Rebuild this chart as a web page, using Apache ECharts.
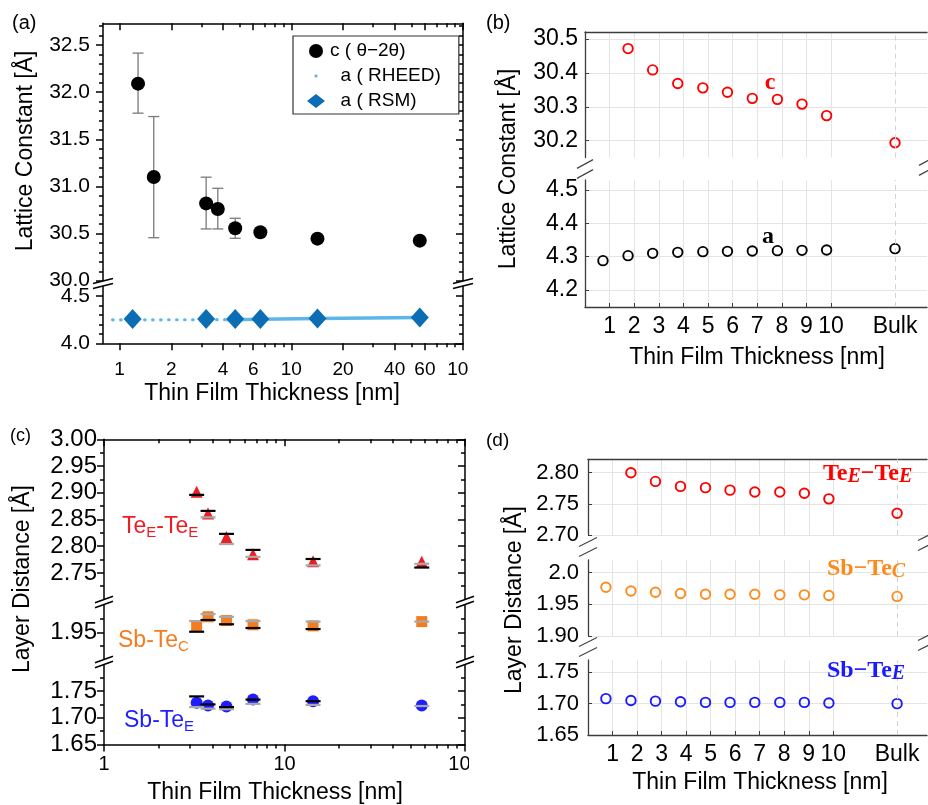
<!DOCTYPE html>
<html><head><meta charset="utf-8">
<script src="https://cdn.jsdelivr.net/npm/echarts@6/dist/echarts.min.js"></script>
<style>html,body{margin:0;padding:0;background:#fff}#c{width:928px;height:805px}</style>
</head><body><div id="c"></div>
<script>
// ---------------- DATA ----------------
// Panel (a)
const aThickC   = [1.28, 1.58, 3.19, 3.73, 4.71, 6.6, 14.2, 56];
const aC        = [32.09, 31.10, 30.82, 30.76, 30.556, 30.514, 30.446, 30.425];
const aCLow     = [31.777, 30.456, 30.549, 30.549, 30.45, null, null, null];
const aCHigh    = [32.414, 31.741, 31.098, 30.98, 30.662, null, null, null];
const aThickRsm = [1.19, 3.19, 4.71, 6.6, 14.2, 56];
const aRsm      = [4.256, 4.256, 4.258, 4.256, 4.262, 4.274];
const rheedDotThick   = [0.91, 4.4];
const rheedDot        = [4.248, 4.25];
const rheedSolidThick = [4.2, 6.6, 14.2, 56];
const rheedSolid      = [4.25, 4.254, 4.262, 4.272];
const aXLabels = [1, 2, 4, 6, 10, 20, 40, 60, 100];
const aXMinor  = [3, 5, 7, 8, 9, 30, 50, 70, 80, 90];
const aUpTicks = [30.0, 30.5, 31.0, 31.5, 32.0, 32.5];
const aUpMinor = [30.1, 30.2, 30.3, 30.4, 30.6, 30.7, 30.8, 30.9, 31.1, 31.2, 31.3, 31.4, 31.6, 31.7, 31.8, 31.9, 32.1, 32.2, 32.3, 32.4, 32.6, 32.7];
const aLoTicks = [4.0, 4.5];
const aLoMinor = [4.1, 4.2, 4.3, 4.4];

// Panels (b) and (d): thickness positions (last = Bulk)
const thickPos   = [0.73, 1.75, 2.75, 3.77, 4.79, 5.79, 6.8, 7.82, 8.82, 9.82, 12.6];
const catTickVals = [1, 2, 3, 4, 5, 6, 7, 8, 9, 10];
const catLabelVals = [1, 2, 3, 4, 5, 6, 7, 8, 9, 10, 12.6];
const catLabels    = ['1', '2', '3', '4', '5', '6', '7', '8', '9', '10', 'Bulk'];
const bulkPos = 12.6;
const bC = [null, 30.472, 30.409, 30.369, 30.356, 30.343, 30.325, 30.322, 30.308, 30.274, 30.194];
const bA = [4.288, 4.303, 4.31, 4.313, 4.315, 4.316, 4.317, 4.318, 4.319, 4.32, 4.324];
const bUpTicks = [30.2, 30.3, 30.4, 30.5];
const bLoTicks = [4.2, 4.3, 4.4, 4.5];

// Panel (c)
const cThick    = [3.26, 3.77, 4.77, 6.69, 14.4, 57.6];
const cTe       = [2.902, 2.861, 2.817, 2.785, 2.772, 2.771];
const cTeBlack  = [2.896, 2.866, 2.823, 2.793, 2.776, 2.760];
const cTeGray   = [null, 2.854, 2.804, 2.780, 2.764, 2.767];
const cSbC      = [1.962, 1.979, 1.972, 1.964, 1.962, 1.970];
const cSbCBlack = [1.951, 1.973, 1.965, 1.958, 1.956, null];
const cSbCGray  = [1.971, 1.984, 1.979, 1.971, 1.970, 1.970];
const cSbE      = [1.728, 1.723, 1.721, 1.734, 1.731, 1.723];
const cSbEBlack = [1.740, 1.725, 1.720, 1.734, 1.731, null];
const cSbEGray  = [1.720, 1.717, 1.716, 1.726, 1.724, 1.722];
const cXLabels = [1, 10, 100];
const cXMinor  = [2, 3, 4, 5, 6, 7, 8, 9, 20, 30, 40, 50, 60, 70, 80, 90];
const cUpTicks = [2.75, 2.80, 2.85, 2.90, 2.95, 3.00];
const cUpMinor = [2.725, 2.775, 2.825, 2.875, 2.925, 2.975];
const cMidTicks = [1.95];
const cMidMinor = [1.925, 1.975];
const cLoTicks = [1.65, 1.70, 1.75];
const cLoMinor = [1.675, 1.725, 1.775];

// Panel (d)
const dTe  = [null, 2.800, 2.786, 2.778, 2.776, 2.772, 2.769, 2.769, 2.767, 2.758, 2.735];
const dSbC = [1.977, 1.971, 1.969, 1.967, 1.966, 1.966, 1.966, 1.965, 1.965, 1.964, 1.9625];
const dSbE = [1.708, 1.705, 1.704, 1.703, 1.702, 1.702, 1.702, 1.702, 1.702, 1.701, 1.700];
const dUpTicks  = [2.70, 2.75, 2.80];
const dMidTicks = [1.90, 1.95, 2.00];
const dMidLabels = ['1.90', '1.95', '2.0'];
const dLoTicks  = [1.65, 1.70, 1.75];

// ---------------- BUILD ----------------
const FONT = "'Liberation Sans', Arial, sans-serif";
const SERIF = "'Liberation Serif', 'Times New Roman', serif";
const grids = [], xAxes = [], yAxes = [], series = [], graphics = [];

function addGrid(l, t, w, h) {
  grids.push({left: l, top: t, width: w, height: h, containLabel: false, outerBoundsMode: 'none'});
  return grids.length - 1;
}
const pairs = (xs, ys) => xs.map((x, i) => ys[i] == null ? null : [x, ys[i]]).filter(Boolean);
const fmtLog = v => String(Math.round(v));
const fmtCat = v => { const i = catLabelVals.findIndex(t => Math.abs(t - v) < 1e-6); return i < 0 ? '' : catLabels[i]; };

function originSection(rect, xs, ys) {
  const g = addGrid(...rect), g2 = addGrid(...rect);
  const ls = {color: '#000', width: 1.5};
  const top = xs.side === 'top', none = xs.side === 'none';
  const xBase = {type: 'log', logBase: 10, min: xs.min, max: xs.max, position: top ? 'top' : 'bottom',
    splitLine: {show: false}, minorTick: {show: false}, minorSplitLine: {show: false}};
  const xi = xAxes.push(Object.assign({}, xBase, {gridIndex: g,
    axisLine: {show: !none, onZero: false, lineStyle: ls},
    axisTick: {show: !none, inside: top, length: 7, customValues: xs.major, lineStyle: ls},
    axisLabel: {show: xs.side === 'bottom', customValues: xs.labels || xs.major, formatter: fmtLog,
      fontSize: xs.fontSize || 19, margin: xs.margin || 10, color: '#000', fontFamily: FONT}})) - 1;
  xAxes.push(Object.assign({}, xBase, {gridIndex: g2,
    axisLine: {show: false, onZero: false},
    axisTick: {show: !none, inside: top, length: 4, customValues: xs.minor, lineStyle: ls},
    axisLabel: {show: false}}));
  const yBase = {type: 'value', min: ys.min, max: ys.max, splitLine: {show: false}};
  const yi = yAxes.push(Object.assign({}, yBase, {gridIndex: g, position: 'left',
    axisLine: {show: true, onZero: false, lineStyle: ls},
    axisTick: {show: true, inside: false, length: 7, customValues: ys.major, lineStyle: ls},
    axisLabel: {customValues: ys.major, formatter: ys.fmt, fontSize: ys.fontSize, margin: ys.margin,
      color: '#000', fontFamily: FONT}})) - 1;
  yAxes.push(Object.assign({}, yBase, {gridIndex: g, position: 'right',
    axisLine: {show: true, onZero: false, lineStyle: ls},
    axisTick: {show: true, inside: true, length: 7, customValues: ys.major, lineStyle: ls},
    axisLabel: {show: false}}));
  yAxes.push(Object.assign({}, yBase, {gridIndex: g2, position: 'left',
    axisLine: {show: false, onZero: false},
    axisTick: {show: true, inside: false, length: 4, customValues: ys.minor, lineStyle: ls},
    axisLabel: {show: false}}));
  yAxes.push(Object.assign({}, yBase, {gridIndex: g2, position: 'right',
    axisLine: {show: false, onZero: false},
    axisTick: {show: true, inside: true, length: 4, customValues: ys.minor, lineStyle: ls},
    axisLabel: {show: false}}));
  return {x: xi, y: yi};
}

function matlabSection(rect, xMax, ys, xSide) {
  const g = addGrid(...rect);
  const dark = '#3c3c3c', gl = '#e4e4e4';
  const xi = xAxes.push({gridIndex: g, type: 'value', min: 0, max: xMax, position: xSide === 'top' ? 'top' : 'bottom',
    axisLine: {show: xSide !== 'none', onZero: false, lineStyle: {color: dark, width: 1.3}},
    axisTick: {show: xSide === 'bottom', inside: true, length: 4, customValues: catTickVals, lineStyle: {color: dark, width: 1}},
    axisLabel: {show: xSide === 'bottom', customValues: catLabelVals, formatter: fmtCat, fontSize: 23, margin: 8,
      color: '#000', fontFamily: FONT},
    splitLine: {show: true, lineStyle: {color: gl, width: 1}}}) - 1;
  const yi = yAxes.push({gridIndex: g, type: 'value', min: ys.min, max: ys.max, position: 'left',
    axisLine: {show: true, onZero: false, lineStyle: {color: dark, width: 1.3}},
    axisTick: {show: true, inside: true, length: 4, customValues: ys.major, lineStyle: {color: dark, width: 1}},
    axisLabel: {customValues: ys.major, formatter: ys.fmt, fontSize: ys.fontSize || 23, margin: ys.margin || 7,
      color: '#000', fontFamily: FONT},
    splitLine: {show: true, lineStyle: {color: gl, width: 1}}}) - 1;
  return {x: xi, y: yi};
}

// ---- panel (a)
const aUp = originSection([103, 23.3, 360, 257.4],
  {min: 0.8, max: 100, side: 'top', major: aXLabels, minor: aXMinor},
  {min: 30.0, max: 32.73, major: aUpTicks, minor: aUpMinor, fmt: v => v.toFixed(1), fontSize: 21, margin: 13});
const aLo = originSection([103, 286.6, 360, 56.7],
  {min: 0.8, max: 100, side: 'bottom', major: aXLabels, labels: aXLabels, minor: aXMinor, fontSize: 19, margin: 17},
  {min: 4.0, max: 4.6, major: aLoTicks, minor: aLoMinor, fmt: v => v.toFixed(1), fontSize: 21, margin: 13});

// ---- panel (b)
const bUp = matlabSection([585, 32, 342, 125.6], 13.9, {min: 30.15, max: 30.521, major: bUpTicks, fmt: v => v.toFixed(1)}, 'top');
const bLo = matlabSection([585, 180, 342, 127], 13.9, {min: 4.149, max: 4.53, major: bLoTicks, fmt: v => v.toFixed(1)}, 'bottom');

// ---- panel (c)
const cUp = originSection([104, 439.3, 361, 160.3],
  {min: 1, max: 100, side: 'top', major: cXLabels, minor: cXMinor},
  {min: 2.70, max: 3.00, major: cUpTicks, minor: cUpMinor, fmt: v => v.toFixed(2), fontSize: 24, margin: 7});
const cMid = originSection([104, 604, 361, 56],
  {min: 1, max: 100, side: 'none', major: cXLabels, minor: cXMinor},
  {min: 1.898, max: 2.003, major: cMidTicks, minor: cMidMinor, fmt: v => v.toFixed(2), fontSize: 24, margin: 7});
const cLo = originSection([104, 664.4, 361, 80],
  {min: 1, max: 100, side: 'bottom', major: cXLabels, labels: cXLabels, minor: cXMinor, fontSize: 20, margin: 10},
  {min: 1.65, max: 1.80, major: cLoTicks, minor: cLoMinor, fmt: v => v.toFixed(2), fontSize: 24, margin: 7});

// ---- panel (d)
const dUp = matlabSection([588, 459.3, 339, 75.7], 13.82, {min: 2.70, max: 2.8215, major: dUpTicks, fmt: v => v.toFixed(2), fontSize: 22, margin: 9}, 'top');
const dMid = matlabSection([588, 560, 339, 76], 13.82, {min: 1.90, max: 2.02, major: dMidTicks,
  fmt: v => { const i = dMidTicks.findIndex(t => Math.abs(t - v) < 1e-6); return i < 0 ? '' : dMidLabels[i]; }, fontSize: 22, margin: 9}, 'none');
const dLo = matlabSection([588, 660, 339, 75], 13.82, {min: 1.65, max: 1.7696, major: dLoTicks, fmt: v => v.toFixed(2), fontSize: 22, margin: 9}, 'bottom');

// ---------------- SERIES ----------------
const on = (sec, o) => Object.assign({xAxisIndex: sec.x, yAxisIndex: sec.y, animation: false, silent: true,
  emphasis: {disabled: true}}, o);
const solid = c => ({color: c, opacity: 1});

function errRender(params, api) {
  const x = api.value(0), lo = api.value(1), hi = api.value(2);
  const p1 = api.coord([x, lo]), p2 = api.coord([x, hi]);
  const w = 5.5, st = {stroke: '#7a7a7a', lineWidth: 1.3};
  return {type: 'group', children: [
    {type: 'line', shape: {x1: p1[0], y1: p1[1], x2: p2[0], y2: p2[1]}, style: st},
    {type: 'line', shape: {x1: p1[0] - w, y1: p1[1], x2: p1[0] + w, y2: p1[1]}, style: st},
    {type: 'line', shape: {x1: p2[0] - w, y1: p2[1], x2: p2[0] + w, y2: p2[1]}, style: st}]};
}
const errData = aThickC.map((t, i) => aCLow[i] == null ? null : [t, aCLow[i], aCHigh[i]]).filter(Boolean);

const RHEED_C = '#5cb6e8', RSM_C = '#0b6db4';
series.push(on(aUp, {type: 'custom', renderItem: errRender, data: errData, encode: {x: 0, y: [1, 2]}, z: 2}));
series.push(on(aUp, {type: 'scatter', name: 'c ( θ−2θ)', data: pairs(aThickC, aC), symbol: 'circle', symbolSize: 14,
  itemStyle: solid('#000'), z: 3}));
series.push(on(aLo, {type: 'line', name: 'a ( RHEED)', data: pairs(rheedDotThick, rheedDot), showSymbol: false, symbol: 'none',
  itemStyle: solid(RHEED_C), lineStyle: {color: RHEED_C, width: 3.2, type: [0.5, 7.5], cap: 'round', opacity: 1}, z: 2}));
series.push(on(aLo, {type: 'line', name: 'a ( RHEED)', data: pairs(rheedSolidThick, rheedSolid), showSymbol: false, symbol: 'none',
  itemStyle: solid(RHEED_C), lineStyle: {color: RHEED_C, width: 3.5, opacity: 1}, z: 2}));
series.push(on(aLo, {type: 'scatter', name: 'a ( RSM)', data: pairs(aThickRsm, aRsm), symbol: 'diamond', symbolSize: [18, 20],
  itemStyle: solid(RSM_C), z: 4}));

const bulkLine = {silent: true, symbol: 'none', label: {show: false}, animation: false, emphasis: {disabled: true},
  lineStyle: {type: [5, 4], color: '#d4d4d4', width: 1}, data: [{xAxis: bulkPos}]};
const openCircle = (sec, ys, color) => on(sec, {type: 'scatter', data: pairs(thickPos, ys), symbol: 'circle', symbolSize: 9.5,
  itemStyle: {color: 'rgba(255,255,255,0)', borderColor: color, borderWidth: 1.9, opacity: 1}, markLine: bulkLine, z: 3});
series.push(openCircle(bUp, bC, '#ff0000'));
series.push(openCircle(bLo, bA, '#000000'));

const TE_C = '#ee1c24', SBC_C = '#f47c20', SBE_C = '#1e1eff';
const dash = (sec, ys, color, z) => on(sec, {type: 'scatter', data: pairs(cThick, ys), symbol: 'rect', symbolSize: [15, 2.2],
  itemStyle: solid(color), z: z});
series.push(on(cUp, {type: 'scatter', data: pairs(cThick, cTe), symbol: 'triangle', symbolSize: 12, itemStyle: solid(TE_C), z: 3}));
series.push(dash(cUp, cTeGray, '#a9a9a9', 4));
series.push(dash(cUp, cTeBlack, '#000', 5));
series.push(on(cMid, {type: 'scatter', data: pairs(cThick, cSbC), symbol: 'rect', symbolSize: 11, itemStyle: solid(SBC_C), z: 3}));
series.push(dash(cMid, cSbCGray, '#a9a9a9', 4));
series.push(dash(cMid, cSbCBlack, '#000', 5));
series.push(on(cLo, {type: 'scatter', data: pairs(cThick, cSbE), symbol: 'circle', symbolSize: 12, itemStyle: solid(SBE_C), z: 3}));
series.push(dash(cLo, cSbEGray, '#a9a9a9', 4));
series.push(dash(cLo, cSbEBlack, '#000', 5));

series.push(openCircle(dUp, dTe, '#ff0000'));
series.push(openCircle(dMid, dSbC, '#ff8a1c'));
series.push(openCircle(dLo, dSbE, '#1a1aff'));

// ---------------- GRAPHICS (titles, labels, axis breaks) ----------------
const txt = (x, y, text, size, extra) => ({type: 'text', x: x, y: y, z: 110,
  style: Object.assign({text: text, fontSize: size, fontFamily: FONT, fill: '#000', align: 'left', verticalAlign: 'middle'}, extra || {})});
function rot(x, y, text) {
  return {type: 'text', x: x, y: y, rotation: Math.PI / 2, z: 110,
    style: {text: text, fontSize: 23, fontFamily: FONT, fill: '#000', align: 'center', verticalAlign: 'middle'}};
}
// the reference figure is cropped just right of 470 px: the last "100" digit is cut off
graphics.push({type: 'rect', z: 105, shape: {x: 469, y: 352, width: 14, height: 34}, style: {fill: '#fff'}});
graphics.push({type: 'rect', z: 105, shape: {x: 469, y: 750, width: 14, height: 30}, style: {fill: '#fff'}});

graphics.push(txt(12, 23, '(a)', 20), txt(486, 23, '(b)', 20), txt(10, 436, '(c)', 18), txt(486, 441, '(d)', 19));
graphics.push(txt(272, 394, 'Thin Film Thickness [nm]', 23, {align: 'center'}));
graphics.push(txt(757, 358, 'Thin Film Thickness [nm]', 23, {align: 'center'}));
graphics.push(txt(275, 793, 'Thin Film Thickness [nm]', 23, {align: 'center'}));
graphics.push(txt(760, 783, 'Thin Film Thickness [nm]', 23, {align: 'center'}));
graphics.push(rot(26, 151, 'Lattice Constant [Å]'), rot(509, 169, 'Lattice Constant [Å]'),
  rot(23, 579, 'Layer Distance [Å]'), rot(515, 600, 'Layer Distance [Å]'));

// panel (b) letters
graphics.push(txt(770, 83, 'c', 24, {fontFamily: SERIF, fontWeight: 'bold', fill: '#f00', align: 'center'}));
graphics.push(txt(768, 237, 'a', 24, {fontFamily: SERIF, fontWeight: 'bold', fill: '#000', align: 'center'}));

// panel (c) labels (plain sans with subscripts)
function sansSub(x, y, parts, color) {
  const text = parts.map(p => p[1] ? '{s|' + p[0] + '}' : '{m|' + p[0] + '}').join('');
  return {type: 'text', x: x, y: y, z: 110, style: {text: text, verticalAlign: 'middle', align: 'left',
    rich: {m: {fontSize: 23, lineHeight: 26, fontFamily: FONT, fill: color},
           s: {fontSize: 15, lineHeight: 11, verticalAlign: 'bottom', fontFamily: FONT, fill: color}}}};
}
graphics.push(sansSub(122, 527, [['Te'], ['E', 1], ['-Te'], ['E', 1]], TE_C));
graphics.push(sansSub(118, 641, [['Sb-Te'], ['C', 1]], SBC_C));
graphics.push(sansSub(124, 721, [['Sb-Te'], ['E', 1]], SBE_C));

// panel (d) labels (bold serif with italic subscripts)
function serifSub(x, y, parts, color) {
  const text = parts.map(p => p[1] ? '{s|' + p[0] + '}' : '{m|' + p[0] + '}').join('');
  return {type: 'text', x: x, y: y, z: 110, style: {text: text, verticalAlign: 'middle', align: 'left',
    rich: {m: {fontSize: 24, lineHeight: 26, fontFamily: SERIF, fontWeight: 'bold', fill: color},
           s: {fontSize: 20, lineHeight: 18, verticalAlign: 'bottom', fontFamily: SERIF, fontWeight: 'bold', fontStyle: 'italic', fill: color}}}};
}
graphics.push(serifSub(823, 474, [['Te'], ['E', 1], ['−Te'], ['E', 1]], '#ff0000'));
graphics.push(serifSub(827, 569, [['Sb−Te'], ['C', 1]], '#ff8a1c'));
graphics.push(serifSub(827, 671, [['Sb−Te'], ['E', 1]], '#1a1aff'));

// axis-break marks
function breakMark(cx, cy, hw, slope, sep, color, lw) {
  const dy = hw * slope;
  const p = [[cx - hw, cy - sep / 2 + dy], [cx + hw, cy - sep / 2 - dy], [cx + hw, cy + sep / 2 - dy], [cx - hw, cy + sep / 2 + dy]];
  graphics.push({type: 'polygon', z: 100, shape: {points: p}, style: {fill: '#fff'}});
  graphics.push({type: 'line', z: 101, shape: {x1: p[0][0], y1: p[0][1], x2: p[1][0], y2: p[1][1]}, style: {stroke: color, lineWidth: lw}});
  graphics.push({type: 'line', z: 101, shape: {x1: p[3][0], y1: p[3][1], x2: p[2][0], y2: p[2][1]}, style: {stroke: color, lineWidth: lw}});
}
breakMark(103, 283.5, 10, 0.25, 5, '#000', 1.8);
breakMark(463, 283.5, 10, 0.25, 5, '#000', 1.8);
breakMark(104, 602, 9, 0.35, 5, '#000', 1.6);
breakMark(104, 662, 9, 0.35, 5, '#000', 1.6);
breakMark(465, 602, 9, 0.35, 5, '#000', 1.6);
breakMark(465, 662, 9, 0.35, 5, '#000', 1.6);
breakMark(585, 169, 8, 0.55, 10, '#444', 1.2);
breakMark(927, 166, 8, 0.55, 10, '#444', 1.2);
breakMark(588, 547, 9, 0.5, 10, '#444', 1.2);
breakMark(588, 647, 9, 0.5, 10, '#444', 1.2);
breakMark(927, 541, 9, 0.5, 10, '#444', 1.2);
breakMark(927, 641, 9, 0.5, 10, '#444', 1.2);

// ---------------- CHART ----------------
const chart = echarts.init(document.getElementById('c'), null, {renderer: 'canvas'});
chart.setOption({
  animation: false,
  backgroundColor: '#fff',
  textStyle: {fontFamily: FONT},
  legend: {
    orient: 'vertical', left: 293, top: 36, padding: [5, 18, 3, 14], itemGap: 5,
    itemWidth: 18, itemHeight: 14, borderColor: '#333', borderWidth: 1.2, backgroundColor: '#fff',
    selectedMode: false, z: 50,
    textStyle: {fontSize: 19, color: '#000', fontFamily: FONT, lineHeight: 20},
    formatter: n => n.charAt(0) === 'a' ? '  ' + n : n,
    data: [
      {name: 'c ( θ−2θ)', icon: 'circle', itemStyle: {color: '#000', opacity: 1}},
      {name: 'a ( RHEED)', icon: 'path://M0,0M20,20M8,8L12,8L12,12L8,12Z', itemStyle: {color: RHEED_C, opacity: 1}},
      {name: 'a ( RSM)', icon: 'diamond', itemStyle: {color: RSM_C, opacity: 1}}
    ]
  },
  grid: grids, xAxis: xAxes, yAxis: yAxes, series: series,
  graphic: {elements: graphics}
});
</script></body></html>
